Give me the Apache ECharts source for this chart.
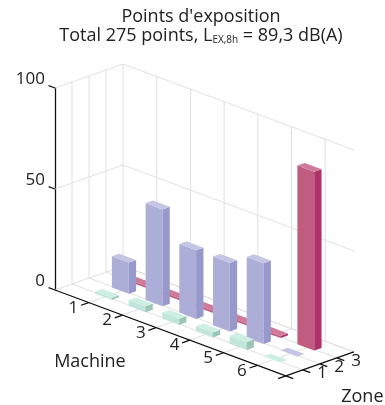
<!DOCTYPE html>
<html>
<head>
<meta charset="utf-8">
<style>html,body{margin:0;padding:0;background:#fff}#chart{width:385px;height:405px}</style>
<script src="https://cdn.jsdelivr.net/npm/echarts@6/dist/echarts.min.js"></script>
</head>
<body>
<div id="chart"></div>
<script>
// Exposure points per machine, one list per zone
const machines = ['1', '2', '3', '4', '5', '6'];
const zones = ['1', '2', '3'];
const valueTicks = [0, 50, 100];
const zone1Points = [1, 3, 3, 2.5, 4, 0];
const zone2Points = [15.5, 48, 34, 34, 40, 0];
const zone3Points = [1, 1, 1, 1, 1, 88.5];

const FONT = '"Open Sans"';
const INK = '#222222';
const GRID_LINE = '#e0e0e0';
const MACHINE_END = 6.85;
const ZONE_END = 4;

// Oblique projection: machine and zone shift the data-space x and y of the grid
function project(api, m, z, v) {
  const x = m + z * 17 / 33.7;
  const y = v - (m * 12.55 - z * 6) * 100 / 202;
  return api.coord([x, y]);
}

// Wall and floor rules
const gridSegments = [];
machines.forEach((_, i) => {
  const m = i + 1;
  gridSegments.push([m, ZONE_END, 0, m, ZONE_END, 100]);
  gridSegments.push([m, 0, 0, m, ZONE_END, 0]);
});
for (let z = 1; z <= ZONE_END; z++) {
  gridSegments.push([0, z, 0, 0, z, 100]);
  gridSegments.push([0, z, 0, MACHINE_END, z, 0]);
}
valueTicks.forEach(v => {
  gridSegments.push([0, 0, v, 0, ZONE_END, v]);
  gridSegments.push([0, ZONE_END, v, MACHINE_END, ZONE_END, v]);
});

// Floor axes and their tick marks
const axisSegments = [
  [0, 0, 0, MACHINE_END, 0, 0],
  [MACHINE_END, 0, 0, MACHINE_END, ZONE_END, 0],
  [MACHINE_END, 0, 0, MACHINE_END + 0.22, 0, 0],
  [MACHINE_END, 0, 0, MACHINE_END, -0.45, 0]
];
machines.forEach((_, i) => axisSegments.push([i + 1, 0, 0, i + 1, -0.45, 0]));
zones.forEach((_, i) => axisSegments.push([MACHINE_END, i + 1, 0, MACHINE_END + 0.22, i + 1, 0]));
valueTicks.forEach(v => axisSegments.push([-0.19, 0, v, 0, 0, v]));

function segmentSeries(segments, color, width) {
  return {
    type: 'custom', silent: true, animation: false, data: segments,
    renderItem: (params, api) => {
      const a = project(api, api.value(0), api.value(1), api.value(2));
      const b = project(api, api.value(3), api.value(4), api.value(5));
      return {
        type: 'line',
        shape: { x1: a[0], y1: a[1], x2: b[0], y2: b[1] },
        style: { stroke: color, lineWidth: width, fill: null }
      };
    }
  };
}

// A box per machine: large face along the machine axis, narrow face along the zone axis
function barSeries(values, zoneNo, colors) {
  return {
    type: 'custom', silent: true, animation: false,
    data: values.map((v, i) => [i + 1, zoneNo, v]),
    renderItem: (params, api) => {
      const m0 = api.value(0) - 0.28, m1 = m0 + 0.5;
      const z0 = api.value(1) - 0.08, z1 = z0 + 0.43;
      const v = api.value(2);
      const p = (m, z, h) => project(api, m, z, h);
      const face = (pts, fill) => ({
        type: 'polygon', shape: { points: pts },
        style: { fill: fill, stroke: null }
      });
      const children = [];
      if (v > 0) {
        children.push(face([p(m0, z0, 0), p(m1, z0, 0), p(m1, z0, v), p(m0, z0, v)], colors.front));
        children.push(face([p(m1, z0, 0), p(m1, z1, 0), p(m1, z1, v), p(m1, z0, v)], colors.side));
      }
      children.push(face([p(m0, z0, v), p(m1, z0, v), p(m1, z1, v), p(m0, z1, v)], colors.top));
      return { type: 'group', children: children };
    }
  };
}

function labelSeries(items, fontSize) {
  return {
    type: 'custom', silent: true, animation: false, data: items,
    renderItem: (params, api) => {
      const c = project(api, api.value(0), api.value(1), api.value(2));
      return {
        type: 'text', x: c[0], y: c[1],
        style: {
          text: items[params.dataIndex][3], fill: INK,
          font: fontSize + 'px ' + FONT, align: 'center', verticalAlign: 'middle'
        }
      };
    }
  };
}

const tickLabels = machines.map((t, i) => [i + 1, -0.9, 0, t])
  .concat(zones.map((t, i) => [MACHINE_END + 0.57, i + 1, 2, t]));
const axisNames = [
  [1.49, -0.9, -23.8, 'Machine'],
  [7.93, 2.36, -10.7, 'Zone']
];

const chart = echarts.init(document.getElementById('chart'), null, { renderer: 'canvas' });
chart.setOption({
  animation: false,
  backgroundColor: '#ffffff',
  title: {
    left: 196, top: 2, textAlign: 'center',
    text: "Points d'exposition\nTotal 275 points, L{sub|EX,8h} = 89,3 dB(A)",
    textStyle: {
      fontFamily: FONT, fontSize: 18, fontWeight: 'normal', color: INK, lineHeight: 19,
      rich: { sub: { fontFamily: FONT, fontSize: 10, color: INK, verticalAlign: 'bottom', lineHeight: 12 } }
    }
  },
  grid: { left: 55, top: 88, width: 33.7, height: 202 },
  xAxis: { type: 'value', min: 0, max: 1, show: false },
  yAxis: {
    type: 'value', min: 0, max: 100, interval: 50,
    axisLine: { show: true, lineStyle: { color: '#111111', width: 1.3 } },
    axisTick: { show: false },
    splitLine: { show: false },
    axisLabel: {
      fontFamily: FONT, fontSize: 17, color: INK, margin: 10,
      verticalAlign: 'bottom', lineHeight: 18
    }
  },
  series: [
    segmentSeries(gridSegments, GRID_LINE, 1),
    segmentSeries(axisSegments, '#111111', 1.3),
    barSeries(zone3Points, 3, { front: '#bf5c80', side: '#b03068', top: '#cf7a9a' }),
    barSeries(zone2Points, 2, { front: '#adaed8', side: '#9798cb', top: '#c4c5e5' }),
    barSeries(zone1Points, 1, { front: '#c0e5da', side: '#9cc5b8', top: '#cdeee2' }),
    labelSeries(tickLabels, 17),
    labelSeries(axisNames, 18)
  ]
});
</script>
</body>
</html>
